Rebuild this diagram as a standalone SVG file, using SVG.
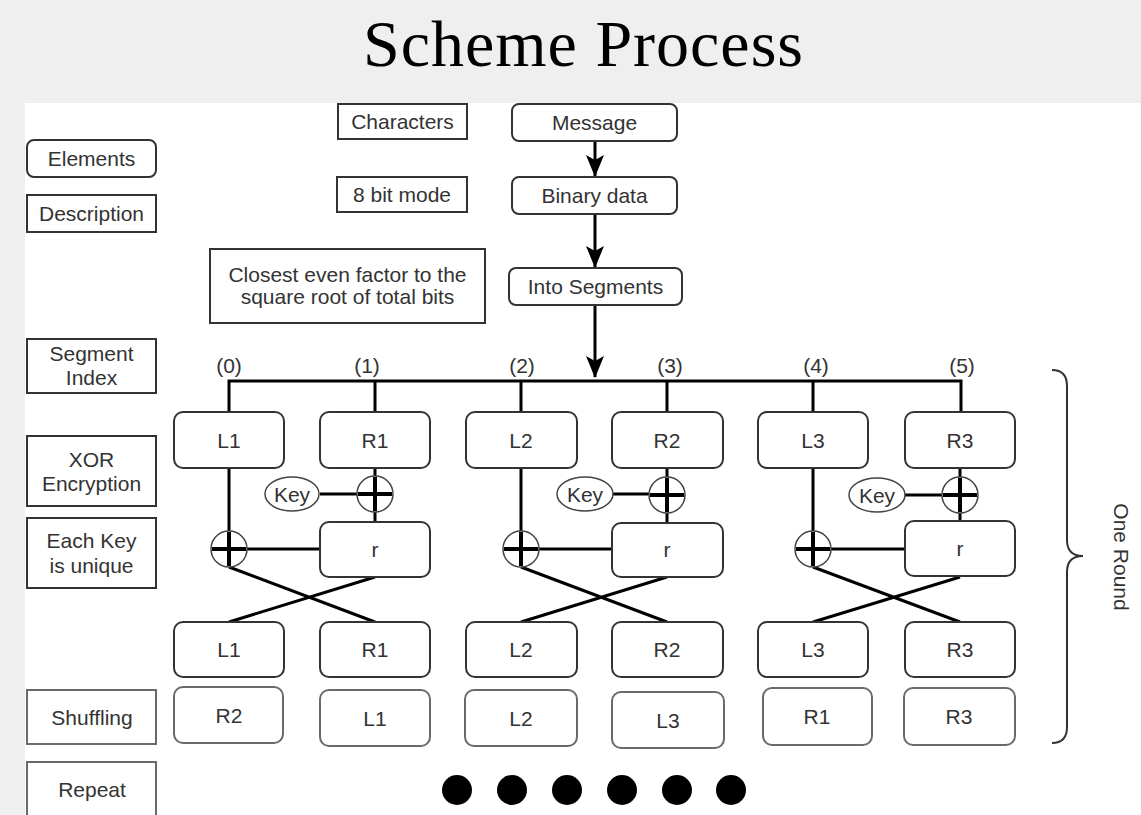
<svg xmlns="http://www.w3.org/2000/svg" width="1141" height="815" viewBox="0 0 1141 815">
<defs>
<style>
.t{font-family:"Liberation Sans",Arial,sans-serif;font-size:21px;fill:#333;text-anchor:middle}
.title{font-family:"Liberation Serif","Times New Roman",serif;font-size:66px;fill:#000;text-anchor:middle}
.box{fill:#fff;stroke:#333;stroke-width:2}
.sbox{fill:#fff;stroke:#6a6a6a;stroke-width:2}
.ln{fill:none;stroke:#000;stroke-width:3}
.xc{fill:#fff;stroke:#444;stroke-width:1.5}
.plus{stroke:#000;stroke-width:4}
</style>
<marker id="ah" viewBox="0 0 22 18" refX="21" refY="9" markerWidth="22" markerHeight="18" markerUnits="userSpaceOnUse" orient="auto">
<path d="M22 9 L0 0 L5 9 L0 18 Z" fill="#000"/>
</marker>
</defs>
<rect x="0" y="0" width="1141" height="815" fill="#efefef"/>
<rect x="25" y="103" width="1116" height="712" fill="#fff"/>
<text class="title" x="583" y="66" textLength="440">Scheme Process</text>

<g id="connectors">
<line class="ln" x1="595" y1="141" x2="595" y2="176" marker-end="url(#ah)"/>
<line class="ln" x1="595" y1="214" x2="595" y2="267" marker-end="url(#ah)"/>
<line class="ln" x1="595" y1="305" x2="595" y2="377" marker-end="url(#ah)"/>
<path class="ln" d="M229 412 V381 H961 V412 M375 381 V412 M521 381 V412 M667 381 V412 M813 381 V412"/>
<!-- block 1 -->
<path class="ln" d="M229 468 V531 M247 549 H320 M375 468 V476 M375 512 V522 M320 494 H357"/>
<path class="ln" d="M229 567 L375 622 M375 577 L229 622"/>
<!-- block 2 -->
<path class="ln" d="M521 468 V531 M539 549 H612 M667 468 V477 M667 513 V523 M613 494 H649"/>
<path class="ln" d="M521 567 L667 622 M667 577 L521 622"/>
<!-- block 3 -->
<path class="ln" d="M813 468 V531 M831 549 H905 M960 468 V477 M960 513 V522 M905 495 H942"/>
<path class="ln" d="M813 567 L960 622 M960 577 L813 622"/>
</g>

<g id="elements"><rect class="box" x="27" y="140" width="129" height="37" rx="7"/><text class="t" x="91.5" y="166">Elements</text></g>
<g id="description"><rect class="box" x="27" y="195" width="129" height="37"/><text class="t" x="91.5" y="221">Description</text></g>
<g id="segment-index"><rect class="box" x="27" y="339" width="129" height="54"/><text class="t" x="91.5" y="361">Segment</text><text class="t" x="91.5" y="385">Index</text></g>
<g id="xor-enc"><rect class="box" x="27" y="436" width="129" height="70"/><text class="t" x="91.5" y="467">XOR</text><text class="t" x="91.5" y="491">Encryption</text></g>
<g id="each-key"><rect class="box" x="27" y="518" width="129" height="70"/><text class="t" x="91.5" y="548">Each Key</text><text class="t" x="91.5" y="573">is unique</text></g>
<g id="shuffling"><rect class="sbox" x="27" y="690" width="129" height="54"/><text class="t" x="92" y="725">Shuffling</text></g>
<g id="repeat"><rect class="sbox" x="27" y="762" width="129" height="60"/><text class="t" x="92" y="797">Repeat</text></g>

<g id="characters"><rect class="box" x="338" y="104" width="129" height="35"/><text class="t" x="402.5" y="129">Characters</text></g>
<g id="message"><rect class="box" x="512" y="104" width="165" height="37" rx="7"/><text class="t" x="594.5" y="130">Message</text></g>
<g id="bitmode"><rect class="box" x="337" y="177" width="130" height="35"/><text class="t" x="402" y="202">8 bit mode</text></g>
<g id="binary"><rect class="box" x="512" y="177" width="165" height="37" rx="7"/><text class="t" x="594.5" y="203">Binary data</text></g>
<g id="closest"><rect class="box" x="210" y="249" width="275" height="74"/><text class="t" x="347.5" y="282">Closest even factor to the</text><text class="t" x="347.5" y="304">square root of total bits</text></g>
<g id="into-segments"><rect class="box" x="509" y="268" width="173" height="37" rx="7"/><text class="t" x="595.5" y="294">Into Segments</text></g>

<g id="indices">
<text class="t" x="229" y="373">(0)</text>
<text class="t" x="367" y="373">(1)</text>
<text class="t" x="522" y="373">(2)</text>
<text class="t" x="670" y="373">(3)</text>
<text class="t" x="816" y="373">(4)</text>
<text class="t" x="962" y="373">(5)</text>
</g>

<g id="L1"><rect class="box" x="174" y="412" width="110" height="56" rx="9"/><text class="t" x="229" y="448">L1</text></g>
<g id="R1"><rect class="box" x="320" y="412" width="110" height="56" rx="9"/><text class="t" x="375" y="448">R1</text></g>
<g id="L2"><rect class="box" x="466" y="412" width="111" height="56" rx="9"/><text class="t" x="521" y="448">L2</text></g>
<g id="R2"><rect class="box" x="612" y="412" width="111" height="56" rx="9"/><text class="t" x="667" y="448">R2</text></g>
<g id="L3"><rect class="box" x="758" y="412" width="110" height="56" rx="9"/><text class="t" x="813" y="448">L3</text></g>
<g id="R3"><rect class="box" x="905" y="412" width="110" height="56" rx="9"/><text class="t" x="960" y="448">R3</text></g>

<g id="key1"><ellipse class="xc" cx="292" cy="494" rx="27" ry="17"/><text class="t" x="292" y="502">Key</text></g>
<g id="key2"><ellipse class="xc" cx="585" cy="494" rx="28" ry="17"/><text class="t" x="585" y="502">Key</text></g>
<g id="key3"><ellipse class="xc" cx="877" cy="495" rx="28" ry="17"/><text class="t" x="877" y="503">Key</text></g>

<g id="xor1a"><circle class="xc" cx="375" cy="494" r="18"/><path class="plus" d="M358 494 H392 M375 477 V511"/></g>
<g id="xor1b"><circle class="xc" cx="229" cy="549" r="18"/><path class="plus" d="M212 549 H246 M229 532 V566"/></g>
<g id="xor2a"><circle class="xc" cx="667" cy="495" r="18"/><path class="plus" d="M650 495 H684 M667 478 V512"/></g>
<g id="xor2b"><circle class="xc" cx="521" cy="549" r="18"/><path class="plus" d="M504 549 H538 M521 532 V566"/></g>
<g id="xor3a"><circle class="xc" cx="960" cy="495" r="18"/><path class="plus" d="M943 495 H977 M960 478 V512"/></g>
<g id="xor3b"><circle class="xc" cx="813" cy="549" r="18"/><path class="plus" d="M796 549 H830 M813 532 V566"/></g>

<g id="r1"><rect class="box" x="320" y="522" width="110" height="55" rx="9"/><text class="t" x="375" y="557">r</text></g>
<g id="r2"><rect class="box" x="612" y="523" width="111" height="54" rx="9"/><text class="t" x="667" y="557">r</text></g>
<g id="r3"><rect class="box" x="905" y="521" width="110" height="55" rx="9"/><text class="t" x="960" y="556">r</text></g>

<g id="L1b"><rect class="box" x="174" y="622" width="110" height="55" rx="9"/><text class="t" x="229" y="657">L1</text></g>
<g id="R1b"><rect class="box" x="320" y="622" width="110" height="55" rx="9"/><text class="t" x="375" y="657">R1</text></g>
<g id="L2b"><rect class="box" x="466" y="622" width="111" height="55" rx="9"/><text class="t" x="521" y="657">L2</text></g>
<g id="R2b"><rect class="box" x="612" y="622" width="111" height="55" rx="9"/><text class="t" x="667" y="657">R2</text></g>
<g id="L3b"><rect class="box" x="758" y="622" width="110" height="55" rx="9"/><text class="t" x="813" y="657">L3</text></g>
<g id="R3b"><rect class="box" x="905" y="622" width="110" height="55" rx="9"/><text class="t" x="960" y="657">R3</text></g>

<g id="s1"><rect class="sbox" x="174" y="687" width="109" height="56" rx="9"/><text class="t" x="229" y="723">R2</text></g>
<g id="s2"><rect class="sbox" x="320" y="690" width="110" height="56" rx="9"/><text class="t" x="375" y="726">L1</text></g>
<g id="s3"><rect class="sbox" x="465" y="690" width="112" height="56" rx="9"/><text class="t" x="521" y="726">L2</text></g>
<g id="s4"><rect class="sbox" x="612" y="692" width="112" height="56" rx="9"/><text class="t" x="668" y="728">L3</text></g>
<g id="s5"><rect class="sbox" x="763" y="688" width="109" height="57" rx="9"/><text class="t" x="817" y="724">R1</text></g>
<g id="s6"><rect class="sbox" x="904" y="688" width="111" height="57" rx="9"/><text class="t" x="959" y="724">R3</text></g>

<g id="dots" fill="#000">
<circle cx="457" cy="790" r="15"/><circle cx="512" cy="790" r="15"/><circle cx="567" cy="790" r="15"/>
<circle cx="622" cy="790" r="15"/><circle cx="677" cy="790" r="15"/><circle cx="731" cy="790" r="15"/>
</g>

<g id="brace">
<path d="M1052 370 Q1067 370 1067 386 V540 Q1067 556 1083 556 Q1067 556 1067 572 V727 Q1067 743 1052 743" fill="none" stroke="#333" stroke-width="2"/>
<text class="t" transform="translate(1114 557) rotate(90)" x="0" y="0">One Round</text>
</g>
</svg>
